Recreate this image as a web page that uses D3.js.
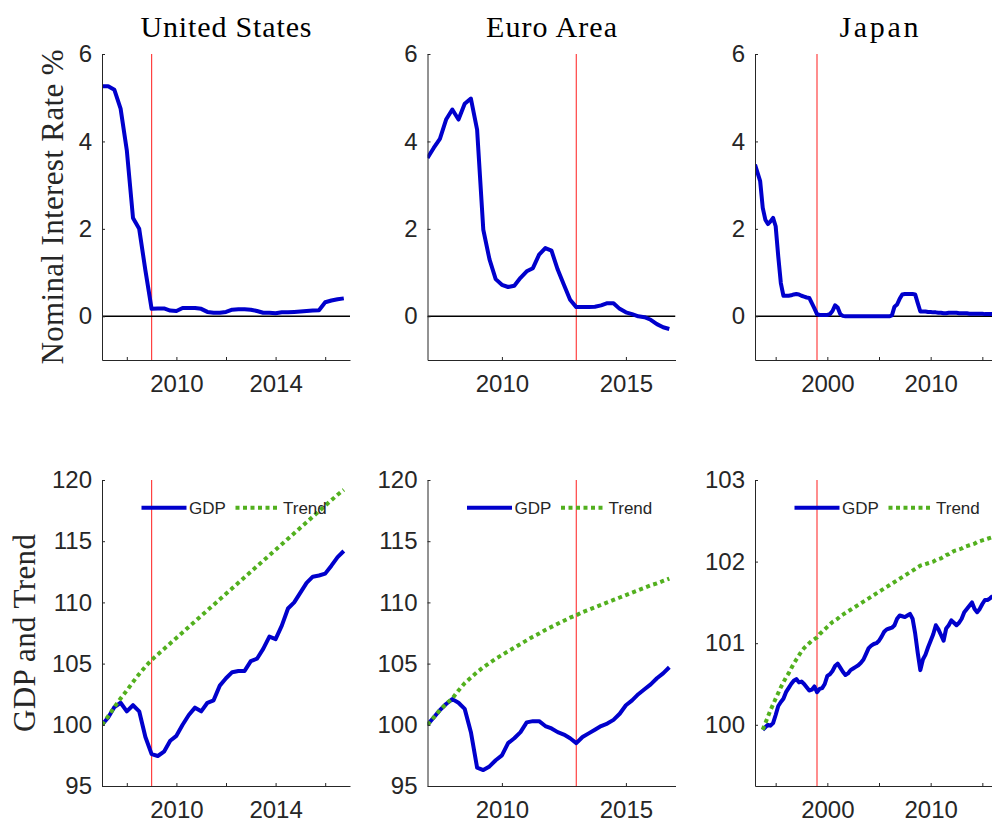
<!DOCTYPE html>
<html><head><meta charset="utf-8">
<script src="https://cdn.jsdelivr.net/npm/d3@7"></script>
<style>body{margin:0;background:#fff;overflow:hidden} svg{display:block}</style>
</head><body><svg id="c" width="992" height="822"></svg>
<script>
// ---------- DATA ----------
const titles = ["United States", "Euro Area", "Japan"];
const titleWidths = [171, 131, 79];
const topYLabel = "Nominal Interest Rate %";
const bottomYLabel = "GDP and Trend";
const legendLabels = ["GDP", "Trend"];

// quarterly series; start year of each series
const usStart = 2007.0, euStart = 2007.0, jpRateStart = 1993.0, jpGdpStart = 1993.75;
const quarter = 0.25;

const usRate = [5.26,5.26,5.18,4.75,3.8,2.25,2.0,1.05,0.17,0.18,
  0.18,0.13,0.12,0.19,0.19,0.19,0.17,0.1,0.08,0.08,
  0.1,0.15,0.16,0.16,0.15,0.12,0.08,0.08,0.07,0.09,
  0.09,0.1,0.11,0.12,0.13,0.14,0.32,0.36,0.39,0.41];
const euRate = [3.62,3.85,4.06,4.5,4.73,4.5,4.86,4.98,4.27,1.98,
  1.3,0.85,0.72,0.67,0.7,0.88,1.03,1.1,1.41,1.56,
  1.5,1.07,0.72,0.38,0.21,0.21,0.21,0.22,0.25,0.3,
  0.3,0.17,0.09,0.05,0.0,-0.02,-0.08,-0.18,-0.25,-0.29];
const jpRate = [3.47,3.28,3.09,2.48,2.21,2.11,2.17,2.25,2.06,1.37,
  0.76,0.47,0.47,0.47,0.48,0.5,0.51,0.5,0.47,0.45,
  0.43,0.42,0.3,0.18,0.05,0.03,0.03,0.03,0.03,0.05,
  0.12,0.25,0.2,0.05,0.01,0,0,0,0,0,
  0,0,0,0,0,0,0,0,0,0,
  0,0,0,0.02,0.22,0.27,0.4,0.5,0.51,0.51,
  0.51,0.51,0.5,0.3,0.11,0.11,0.11,0.1,0.1,0.09,
  0.09,0.08,0.08,0.07,0.07,0.08,0.08,0.08,0.08,0.07,
  0.07,0.07,0.07,0.06,0.06,0.06,0.06,0.06,0.06,0.05,
  0.05,0.05,0.05];

const usGdp = [100,100.6,101.45,101.8,101.1,101.6,101.1,99.0,97.6,97.45,
  97.8,98.7,99.1,100.0,100.8,101.4,101.1,101.8,102.0,103.2,
  103.8,104.3,104.4,104.4,105.2,105.4,106.2,107.2,107.0,108.1,
  109.5,110.0,110.8,111.6,112.1,112.2,112.35,113.0,113.7,114.2];
const usTrend = [100.0,100.7,101.45,102.15,102.8,103.5,104.15,104.75,105.3,105.75,
  106.2,106.65,107.1,107.55,108.0,108.45,108.9,109.35,109.8,110.25,
  110.7,111.15,111.6,112.05,112.5,112.95,113.4,113.85,114.3,114.75,
  115.2,115.65,116.1,116.55,117.0,117.45,117.9,118.35,118.8,119.2];
const euGdp = [100,100.6,101.2,101.7,102.1,101.8,101.3,99.4,96.5,96.3,
  96.6,97.1,97.5,98.5,98.9,99.4,100.2,100.3,100.3,99.9,
  99.7,99.4,99.2,98.9,98.5,99.0,99.3,99.6,99.9,100.1,
  100.4,100.9,101.6,102.0,102.5,102.9,103.3,103.8,104.2,104.7];
const euTrend = [100.0,100.6,101.2,101.7,102.15,102.8,103.4,103.85,104.3,104.7,
  105.05,105.4,105.7,106.0,106.3,106.6,106.9,107.2,107.45,107.75,
  108.0,108.25,108.5,108.75,108.95,109.2,109.4,109.6,109.8,110.0,
  110.2,110.4,110.6,110.8,111.0,111.2,111.4,111.55,111.75,111.95];
const jpGdp = [99.94,99.97,100.0,99.99,100.02,100.12,100.23,100.28,100.32,100.4,
  100.45,100.5,100.54,100.56,100.52,100.53,100.5,100.46,100.42,100.43,
  100.47,100.4,100.44,100.45,100.5,100.6,100.62,100.66,100.72,100.75,
  100.7,100.65,100.61,100.63,100.67,100.69,100.71,100.73,100.76,100.8,
  100.87,100.94,100.97,100.99,101.0,101.03,101.08,101.14,101.17,101.18,
  101.19,101.22,101.3,101.34,101.33,101.32,101.34,101.36,101.3,101.12,
  100.88,100.67,100.8,100.86,100.95,101.03,101.11,101.22,101.17,101.1,
  101.03,101.18,101.22,101.28,101.25,101.22,101.25,101.3,101.38,101.42,
  101.46,101.5,101.42,101.38,101.42,101.48,101.53,101.53,101.55,101.58];
const jpTrend = [99.94,100.02,100.1,100.18,100.25,100.32,100.39,100.46,100.52,100.58,
  100.63,100.69,100.75,100.8,100.85,100.9,100.94,100.97,101.0,101.03,
  101.05,101.07,101.11,101.14,101.17,101.2,101.23,101.26,101.28,101.3,
  101.33,101.35,101.37,101.39,101.41,101.43,101.45,101.47,101.49,101.51,
  101.53,101.55,101.57,101.59,101.61,101.63,101.65,101.67,101.69,101.71,
  101.73,101.75,101.77,101.79,101.81,101.83,101.85,101.87,101.89,101.91,
  101.93,101.95,101.96,101.97,101.98,101.99,102.0,102.02,102.03,102.04,
  102.06,102.08,102.09,102.11,102.13,102.14,102.15,102.16,102.18,102.19,
  102.2,102.21,102.22,102.24,102.25,102.26,102.27,102.28,102.29,102.3];

const xDomains = [[2007, 2017], [2007, 2017], [1993, 2017]];
const xTicks = [[2008, 2010, 2012, 2014, 2016], [2010, 2015], [1995, 2000, 2005, 2010, 2015]];
const xTickLabels = [[2010, 2014], [2010, 2015], [2000, 2010]];
const eventYears = [2009, 2013, 1999];
const topYDomain = [-1, 6], topYTicks = [0, 2, 4, 6];
const bottomYDomains = [[95, 120], [95, 120], [99.25, 103]];
const bottomYTicks = [[95, 100, 105, 110, 115, 120], [95, 100, 105, 110, 115, 120], [100, 101, 102, 103]];

// ---------- LAYOUT ----------
const colLeft = [102, 427.5, 755], plotW = 248;
const rowTop = [54, 480], plotH = 306;
const blue = "#0000cc", green = "#52b01e", red = "#ff2020", axisCol = "#262626";
const tickFont = "'Liberation Sans', Arial, Helvetica, sans-serif";
const serif = "'Liberation Serif', 'Times New Roman', serif";

const svg = d3.select("#c");
svg.append("rect").attr("width", 992).attr("height", 822).attr("fill", "#fff");

function series(vals, start) { return vals.map((v, i) => ({x: start + i * quarter, y: v})); }

const rates = [series(usRate, usStart), series(euRate, euStart), series(jpRate, jpRateStart)];
const gdps = [series(usGdp, usStart), series(euGdp, euStart), series(jpGdp, jpGdpStart)];
const trends = [series(usTrend, usStart), series(euTrend, euStart), series(jpTrend, jpGdpStart)];

function styleAxis(g) {
  g.selectAll("path.domain").attr("stroke", axisCol).attr("stroke-width", 1);
  g.selectAll(".tick line").attr("stroke", axisCol).attr("stroke-width", 1);
  g.selectAll(".tick text").attr("fill", axisCol).style("font-family", tickFont).style("font-size", "24px");
}

function panel(col, row) {
  const left = colLeft[col], top = rowTop[row];
  const g = svg.append("g").attr("transform", `translate(${left},${top})`);
  const x = d3.scaleLinear().domain(xDomains[col]).range([0, plotW]);
  const yDom = row === 0 ? topYDomain : bottomYDomains[col];
  const yTicks = row === 0 ? topYTicks : bottomYTicks[col];
  const y = d3.scaleLinear().domain(yDom).range([plotH, 0]);

  const clipId = `clip${col}${row}`;
  g.append("clipPath").attr("id", clipId).append("rect")
    .attr("x", 0).attr("y", -2).attr("width", plotW).attr("height", plotH + 4);
  const plot = g.append("g").attr("clip-path", `url(#${clipId})`);

  // event line
  plot.append("line").attr("x1", x(eventYears[col])).attr("x2", x(eventYears[col]))
    .attr("y1", 0).attr("y2", plotH).attr("stroke", red).attr("stroke-width", 1.2).attr("stroke-opacity", 0.85);

  const line = d3.line().x(d => x(d.x)).y(d => y(d.y));

  if (row === 0) {
    plot.append("line").attr("x1", 0).attr("x2", plotW).attr("y1", y(0)).attr("y2", y(0))
      .attr("stroke", "#000").attr("stroke-width", 1.4);
    plot.append("path").datum(rates[col]).attr("d", line)
      .attr("fill", "none").attr("stroke", blue).attr("stroke-width", 4).attr("stroke-linejoin", "round");
  } else {
    plot.append("path").datum(gdps[col]).attr("d", line)
      .attr("fill", "none").attr("stroke", blue).attr("stroke-width", 4).attr("stroke-linejoin", "round");
    plot.append("path").datum(trends[col]).attr("d", line)
      .attr("fill", "none").attr("stroke", green).attr("stroke-width", 4).attr("stroke-dasharray", "4,3.5");
    // legend
    const ly = 27.7;
    const lg = g.append("g");
    lg.append("line").attr("x1", 39.5).attr("x2", 84.5).attr("y1", ly).attr("y2", ly)
      .attr("stroke", blue).attr("stroke-width", 4);
    lg.append("text").attr("x", 87).attr("y", ly).attr("dy", "0.35em").text(legendLabels[0])
      .style("font-family", tickFont).style("font-size", "17px").attr("fill", axisCol);
    lg.append("line").attr("x1", 133.5).attr("x2", 177).attr("y1", ly).attr("y2", ly)
      .attr("stroke", green).attr("stroke-width", 4).attr("stroke-dasharray", "4,3.5");
    lg.append("text").attr("x", 181).attr("y", ly).attr("dy", "0.35em").text(legendLabels[1])
      .style("font-family", tickFont).style("font-size", "17px").attr("fill", axisCol);
  }

  const labX = xTickLabels[col];
  const xa = g.append("g").attr("transform", `translate(0,${plotH})`)
    .call(d3.axisBottom(x).tickValues(xTicks[col]).tickSizeInner(-3).tickSizeOuter(0).tickPadding(15)
      .tickFormat(d => labX.includes(d) ? String(d) : ""));
  styleAxis(xa);
  const ya = g.append("g")
    .call(d3.axisLeft(y).tickValues(yTicks).tickSizeInner(-3).tickSizeOuter(0).tickPadding(10)
      .tickFormat(d => String(d)));
  styleAxis(ya);

  if (row === 0) {
    svg.append("text").attr("x", left + plotW / 2).attr("y", 36.7).attr("text-anchor", "middle")
      .style("font-family", serif).style("font-size", "30px").attr("fill", "#000")
      .attr("textLength", titleWidths[col]).text(titles[col]);
  }
}

for (let r = 0; r < 2; r++) for (let c = 0; c < 3; c++) panel(c, r);

svg.append("text").attr("transform", "translate(63,207) rotate(-90)").attr("text-anchor", "middle")
  .style("font-family", serif).style("font-size", "31px").attr("fill", "#262626")
  .attr("textLength", 315).text(topYLabel);
svg.append("text").attr("transform", "translate(35,633) rotate(-90)").attr("text-anchor", "middle")
  .style("font-family", serif).style("font-size", "31px").attr("fill", "#262626")
  .attr("textLength", 198).text(bottomYLabel);
</script>
</body></html>
